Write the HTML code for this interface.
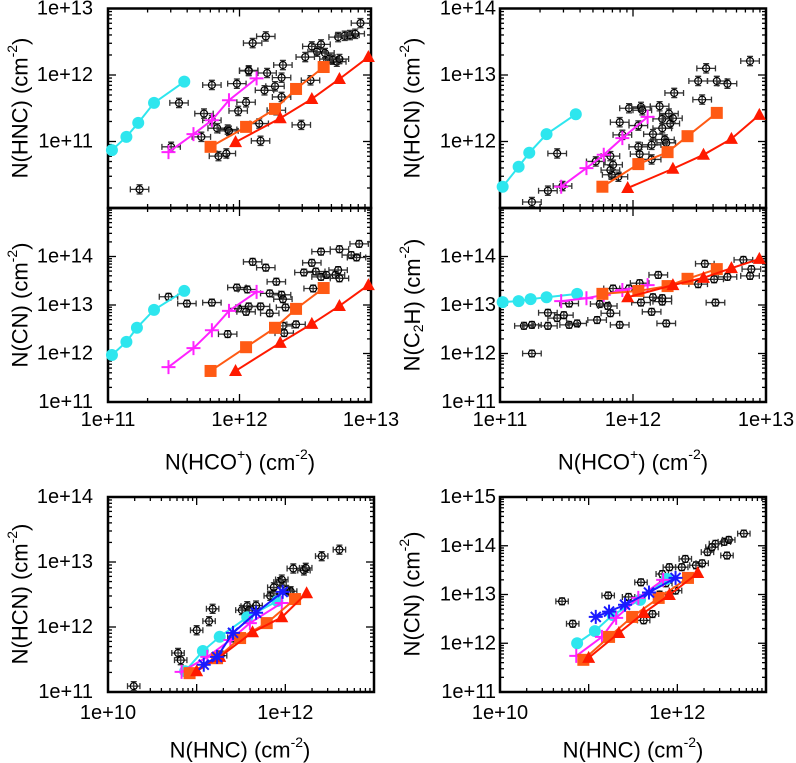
<!DOCTYPE html>
<html><head><meta charset="utf-8"><style>
html,body{margin:0;padding:0;background:#fff;}
svg{display:block;font-family:"Liberation Sans",sans-serif;}
</style></head><body>
<svg id="fig" width="796" height="763" viewBox="0 0 796 763" xmlns="http://www.w3.org/2000/svg"></svg>
<script>
// ---------- DATA (log10 column densities) ----------
// Panel A: N(HCO+) vs N(HNC)
const aObsX=[11.24,12.10,12.20,11.98,11.79,12.07,12.21,12.32,12.27,12.33,12.19,12.05,11.99,12.28,12.32,11.73,11.79,11.83,11.91,11.92,12.15,12.16,11.84,11.90,11.71,11.48,11.54,12.47,12.50,12.54,12.55,12.62,12.59,12.65,12.68,12.71,12.74,12.76,12.75,12.80,12.84,12.88,12.92,12.07];
const aObsY=[10.28,12.48,12.58,11.87,11.85,12.06,12.03,11.96,11.83,12.15,11.77,11.59,11.46,11.47,11.67,11.42,11.32,11.20,11.18,11.16,11.27,11.01,10.78,10.82,11.07,10.92,11.58,11.25,12.27,11.92,12.43,12.46,12.35,12.33,12.24,12.23,12.20,12.24,12.57,12.59,12.60,12.62,12.78,12.07];
const aCyanX=[11.03,11.14,11.23,11.35,11.58], aCyanY=[10.87,11.07,11.28,11.58,11.90];
const aMagX=[11.46,11.65,11.79,11.92,12.13], aMagY=[10.84,11.11,11.32,11.62,11.95];
const aOrX=[11.78,12.05,12.27,12.43,12.64], aOrY=[10.92,11.22,11.49,11.79,12.12];
const aRedX=[11.97,12.31,12.55,12.76,12.98], aRedY=[10.99,11.35,11.64,11.94,12.27];
// Panel B: N(HCO+) vs N(CN)
const bObsX=[11.46,11.60,11.79,11.98,12.06,12.10,12.20,12.07,11.99,12.05,12.16,12.23,12.23,12.28,12.32,12.33,12.35,11.91,12.33,12.34,12.43,12.49,12.55,12.58,12.62,12.56,12.62,12.66,12.73,12.75,12.76,12.85,12.89,12.91,12.76];
const bObsY=[13.17,13.03,13.05,13.36,13.32,13.89,13.77,12.97,12.93,12.86,12.97,12.83,13.24,13.48,13.21,13.12,12.95,12.40,12.57,12.42,12.60,13.67,13.87,13.69,14.10,13.34,13.58,13.62,13.62,13.72,14.15,14.03,13.98,14.26,13.55];
const bCyanX=[11.03,11.14,11.22,11.35,11.58], bCyanY=[11.97,12.24,12.53,12.90,13.29];
const bMagX=[11.46,11.65,11.79,11.92,12.13], bMagY=[11.72,12.11,12.48,12.88,13.27];
const bOrX=[11.78,12.05,12.27,12.43,12.64], bOrY=[11.64,12.13,12.53,12.92,13.35];
const bRedX=[11.97,12.31,12.55,12.76,12.98], bRedY=[11.64,12.22,12.61,12.98,13.41];
// Panel C: N(HCO+) vs N(HCN)
const cObsX=[11.24,11.36,11.43,11.47,11.72,11.84,11.83,11.89,11.97,12.06,12.07,11.92,11.90,12.04,12.04,12.05,12.14,12.15,12.14,12.20,12.22,12.22,12.27,12.28,12.30,12.24,12.25,12.31,12.49,12.52,12.55,12.63,12.71,12.88,11.83,11.85];
const cObsY=[11.09,11.26,11.82,11.33,11.70,11.50,11.78,11.47,12.50,12.52,12.47,12.10,12.29,12.24,11.92,11.81,11.73,12.11,11.95,12.53,12.20,12.34,12.42,12.27,12.35,12.03,11.98,12.73,12.91,12.63,13.10,12.91,12.87,13.21,11.57,11.65];
const cCyanX=[11.02,11.14,11.22,11.35,11.57], cCyanY=[11.32,11.62,11.83,12.11,12.41];
const cMagX=[11.46,11.65,11.78,11.92,12.11], cMagY=[11.32,11.60,11.80,12.05,12.37];
const cOrX=[11.77,12.04,12.26,12.41,12.63], cOrY=[11.32,11.66,11.84,12.08,12.43];
const cRedX=[11.96,12.30,12.53,12.74,12.95], cRedY=[11.30,11.59,11.80,12.04,12.40];
// Panel D: N(HCO+) vs N(C2H)
const dObsX=[11.18,11.24,11.36,11.24,11.36,11.43,11.48,11.52,11.58,11.52,11.73,11.75,11.81,11.83,11.90,11.85,11.97,12.05,12.06,12.14,12.15,12.19,12.22,12.22,12.25,12.49,12.54,12.61,12.62,12.71,12.83,12.89,12.88];
const dObsY=[12.57,12.59,12.57,12.00,12.84,12.73,12.79,12.59,12.62,13.03,12.69,13.02,12.98,12.83,12.59,13.34,13.34,13.45,13.05,12.86,13.16,13.62,13.07,13.14,12.62,13.43,13.85,13.53,13.05,13.58,13.93,13.74,13.60];
const dCyanX=[11.02,11.14,11.23,11.35,11.58], dCyanY=[13.06,13.08,13.12,13.16,13.23];
const dMagX=[11.46,11.65,11.78,11.92,12.11], dMagY=[13.08,13.14,13.21,13.31,13.41];
const dOrX=[11.77,12.04,12.26,12.41,12.63], dOrY=[13.23,13.29,13.39,13.54,13.74];
const dRedX=[11.96,12.30,12.53,12.74,12.95], dRedY=[13.16,13.41,13.56,13.76,13.95];
// Panel E: N(HNC) vs N(HCN)
const eObsX=[10.29,10.79,10.82,11.18,11.00,11.14,11.42,11.27,11.51,11.57,11.67,11.59,11.83,11.87,11.94,11.96,12.01,12.06,12.09,12.21,12.23,12.41,12.61,11.87];
const eObsY=[11.09,11.60,11.49,12.28,11.95,12.09,11.84,11.56,12.26,12.32,12.33,12.26,12.48,12.51,12.69,12.73,12.57,12.55,12.90,12.87,12.91,13.09,13.19,12.61];
const eCyanX=[10.87,11.07,11.26,11.57,11.91], eCyanY=[11.32,11.63,11.85,12.15,12.40];
const eMagX=[10.83,11.12,11.38,11.60,11.96], eMagY=[11.31,11.54,11.80,12.06,12.37];
const eOrX=[10.92,11.23,11.49,11.79,12.11], eOrY=[11.29,11.52,11.83,12.06,12.43];
const eRedX=[11.00,11.26,11.63,11.96,12.24], eRedY=[11.32,11.54,11.92,12.15,12.52];
const eBlueX=[11.08,11.23,11.41,11.67,11.97], eBlueY=[11.42,11.54,11.91,12.22,12.54];
// Panel F: N(HNC) vs N(CN)
const fObsX=[10.70,10.82,11.22,11.45,11.59,11.62,11.72,11.80,11.83,11.91,12.05,12.09,12.21,12.28,12.34,12.43,12.53,12.56,12.58,12.75,11.98,11.87,12.39];
const fObsY=[12.86,12.40,12.98,12.95,13.25,12.47,12.60,13.00,13.42,13.56,13.56,13.73,13.60,13.64,13.87,14.04,14.08,13.80,14.12,14.25,13.08,13.23,13.97];
const fCyanX=[10.87,11.07,11.27,11.58,11.88], fCyanY=[12.00,12.25,12.58,12.89,13.32];
const fMagX=[10.86,11.15,11.31,11.56,11.84], fMagY=[11.74,12.13,12.52,12.93,13.30];
const fOrX=[10.94,11.23,11.49,11.79,12.12], fOrY=[11.66,12.13,12.54,12.93,13.34];
const fRedX=[11.00,11.34,11.62,11.91,12.23], fRedY=[11.70,12.21,12.62,12.99,13.44];
const fBlueX=[11.08,11.23,11.41,11.68,11.98], fBlueY=[12.54,12.65,12.79,13.04,13.34];

const yTicksA=["1e+11","1e+12","1e+13"];
const yTicksB=["1e+11","1e+12","1e+13","1e+14"];
const yTicksC=["1e+12","1e+13","1e+14"];
const yTicksE=["1e+11","1e+12","1e+13","1e+14"];
const yTicksF=["1e+11","1e+12","1e+13","1e+14","1e+15"];
const xTicksTop=["1e+11","1e+12","1e+13"];
const xTicksBot=["1e+10","1e+12"];

// ---------- DRAWING ----------
const NS="http://www.w3.org/2000/svg";
const svg=document.getElementById('fig');
function mk(tag,attrs,parent){const e=document.createElementNS(NS,tag);for(const k in attrs)e.setAttribute(k,attrs[k]);(parent||svg).appendChild(e);return e;}
function lv(s){return parseFloat(s.split('+')[1]);}

function panel(name,box,xr,yr,xt,yt,showX,yLabX){
  const g=mk('g',{});
  
  
  const sx=v=>box.l+(v-xr[0])/(xr[1]-xr[0])*(box.r-box.l);
  const sy=v=>box.b-(v-yr[0])/(yr[1]-yr[0])*(box.b-box.t);
  const tk=mk('g',{stroke:'#000','stroke-width':1.3},g);
  
  
  for(let d=Math.floor(xr[0]);d<=xr[1];d++){for(let m=1;m<10;m++){const v=d+Math.log10(m);if(v<xr[0]-1e-6||v>xr[1]+1e-6)continue;const x=sx(v),L=m==1?8:4;
    mk('line',{x1:x,y1:box.b,x2:x,y2:box.b-L},tk);mk('line',{x1:x,y1:box.t,x2:x,y2:box.t+L},tk);}}
  for(let d=Math.floor(yr[0]);d<=yr[1];d++){for(let m=1;m<10;m++){const v=d+Math.log10(m);if(v<yr[0]-1e-6||v>yr[1]+1e-6)continue;const y=sy(v),L=m==1?8:4;
    mk('line',{x1:box.l,y1:y,x2:box.l+L,y2:y},tk);mk('line',{x1:box.r,y1:y,x2:box.r-L,y2:y},tk);}}
  const fr=mk('rect',{x:box.l,y:box.t,width:box.r-box.l,height:box.b-box.t,fill:'none',stroke:'#000','stroke-width':2.5},g);
  
  
  yt.forEach(s=>{const t=mk('text',{x:yLabX,y:sy(lv(s)),'text-anchor':'end','dominant-baseline':'central','font-size':20},g);t.textContent=s;
    
    });
  if(showX){xt.forEach(s=>{const t=mk('text',{x:sx(lv(s)),y:showX,'text-anchor':'middle','dominant-baseline':'central','font-size':20},g);t.textContent=s;
    
    });}
  return {g,sx,sy,box};
}
function obs(p,X,Y){
  const g=mk('g',{},p.g);
  
  
  X.forEach((xv,i)=>{const x=p.sx(xv),y=p.sy(Y[i]);const e=0.07;
    const x1=p.sx(xv-e),x2=p.sx(xv+e),y1=p.sy(Y[i]-e),y2=p.sy(Y[i]+e);
    mk('path',{d:`M${x1},${y}H${x2}M${x},${y1}V${y2}M${x1},${y-3}v6M${x2},${y-3}v6M${x-3},${y1}h6M${x-3},${y2}h6`,stroke:'#333','stroke-width':1.3,fill:'none'},g);
    const c=mk('circle',{cx:x,cy:y,r:3.5,fill:'none',stroke:'#000','stroke-width':1.2},g);
    
    });
}
function series(p,X,Y,color,mark,name){
  const g=mk('g',{},p.g);
  
  
  const pts=X.map((v,i)=>[p.sx(v),p.sy(Y[i])]);
  mk('polyline',{points:pts.map(q=>q.join(',')).join(' '),fill:'none',stroke:color,'stroke-width':2},g);
  pts.forEach(([x,y])=>{let m;
    if(mark=='circle')m=mk('circle',{cx:x,cy:y,r:6,fill:color},g);
    else if(mark=='square')m=mk('rect',{x:x-6,y:y-6,width:12,height:12,fill:color},g);
    else if(mark=='tri')m=mk('path',{d:`M${x},${y-7}L${x+6.5},${y+5}L${x-6.5},${y+5}Z`,fill:color},g);
    else if(mark=='plus')m=mk('path',{d:`M${x-7},${y}H${x+7}M${x},${y-7}V${y+7}`,stroke:color,'stroke-width':2},g);
    else m=mk('path',{d:`M${x-7},${y}H${x+7}M${x},${y-7}V${y+7}M${x-5},${y-5}L${x+5},${y+5}M${x-5},${y+5}L${x+5},${y-5}`,stroke:color,'stroke-width':2},g);
    
    });
}
const CY='#2ee6ee',MG='#ff22ff',OR='#ff5a14',RD='#ff1a00',BL='#1a1aff';
function allSeries(p,cx,cy,mx,my,ox,oy,rx,ry,bx,by){
  series(p,cx,cy,CY,'circle','model-cyan');
  series(p,mx,my,MG,'plus','model-magenta');
  series(p,ox,oy,OR,'square','model-orange');
  series(p,rx,ry,RD,'tri','model-red');
  if(bx)series(p,bx,by,BL,'star','model-blue');
}
let p;
p=panel('panel-hnc-vs-hco',{l:108,r:371,t:8.5,b:208},[11,13],[10,13],xTicksTop,yTicksA,0,93);
obs(p,aObsX,aObsY);allSeries(p,aCyanX,aCyanY,aMagX,aMagY,aOrX,aOrY,aRedX,aRedY);
p=panel('panel-cn-vs-hco',{l:108,r:371,t:208,b:402},[11,13],[11,15],xTicksTop,yTicksB,420,93);
obs(p,bObsX,bObsY);allSeries(p,bCyanX,bCyanY,bMagX,bMagY,bOrX,bOrY,bRedX,bRedY);
p=panel('panel-hcn-vs-hco',{l:500,r:766,t:8.5,b:208},[11,13],[11,14],xTicksTop,yTicksC,0,496);
obs(p,cObsX,cObsY);allSeries(p,cCyanX,cCyanY,cMagX,cMagY,cOrX,cOrY,cRedX,cRedY);
p=panel('panel-c2h-vs-hco',{l:500,r:766,t:208,b:402},[11,13],[11,15],xTicksTop,yTicksB,420,496);
obs(p,dObsX,dObsY);allSeries(p,dCyanX,dCyanY,dMagX,dMagY,dOrX,dOrY,dRedX,dRedY);
p=panel('panel-hcn-vs-hnc',{l:108,r:374,t:497,b:692},[10,13],[11,14],xTicksBot,yTicksE,713,93);
obs(p,eObsX,eObsY);allSeries(p,eCyanX,eCyanY,eMagX,eMagY,eOrX,eOrY,eRedX,eRedY,eBlueX,eBlueY);
p=panel('panel-cn-vs-hnc',{l:500,r:766,t:497,b:692},[10,13],[11,15],xTicksBot,yTicksF,713,496);
obs(p,fObsX,fObsY);allSeries(p,fCyanX,fCyanY,fMagX,fMagY,fOrX,fOrY,fRedX,fRedY,fBlueX,fBlueY);

function title(txt,x,y,rot,name){
  const t=mk('text',{x:x,y:y,'text-anchor':'middle','dominant-baseline':'central','font-size':22,transform:rot?`rotate(-90 ${x} ${y})`:''});
  t.innerHTML=txt;
  
  
}
const sup=s=>`<tspan dy="-8" font-size="14">${s}</tspan><tspan dy="8">`;
title(`N(HNC) (cm${sup('-2')})</tspan>`,20,108,true,'y-axis-title-hnc');
title(`N(CN) (cm${sup('-2')})</tspan>`,20,305,true,'y-axis-title-cn');
title(`N(HCN) (cm${sup('-2')})</tspan>`,412,108,true,'y-axis-title-hcn');
title(`N(C<tspan dy="6" font-size="14">2</tspan><tspan dy="-6">H) (cm</tspan>${sup('-2')})</tspan>`,412,305,true,'y-axis-title-c2h');
title(`N(HCO${sup('+')}) (cm${sup('-2')})</tspan></tspan>`,240,462,false,'x-axis-title-hco-left');
title(`N(HCO${sup('+')}) (cm${sup('-2')})</tspan></tspan>`,633,462,false,'x-axis-title-hco-right');
title(`N(HCN) (cm${sup('-2')})</tspan>`,20,594,true,'y-axis-title-hcn-bottom');
title(`N(CN) (cm${sup('-2')})</tspan>`,412,594,true,'y-axis-title-cn-bottom');
title(`N(HNC) (cm${sup('-2')})</tspan>`,240,750,false,'x-axis-title-hnc-left');
title(`N(HNC) (cm${sup('-2')})</tspan>`,633,750,false,'x-axis-title-hnc-right');
</script>
</body></html>
